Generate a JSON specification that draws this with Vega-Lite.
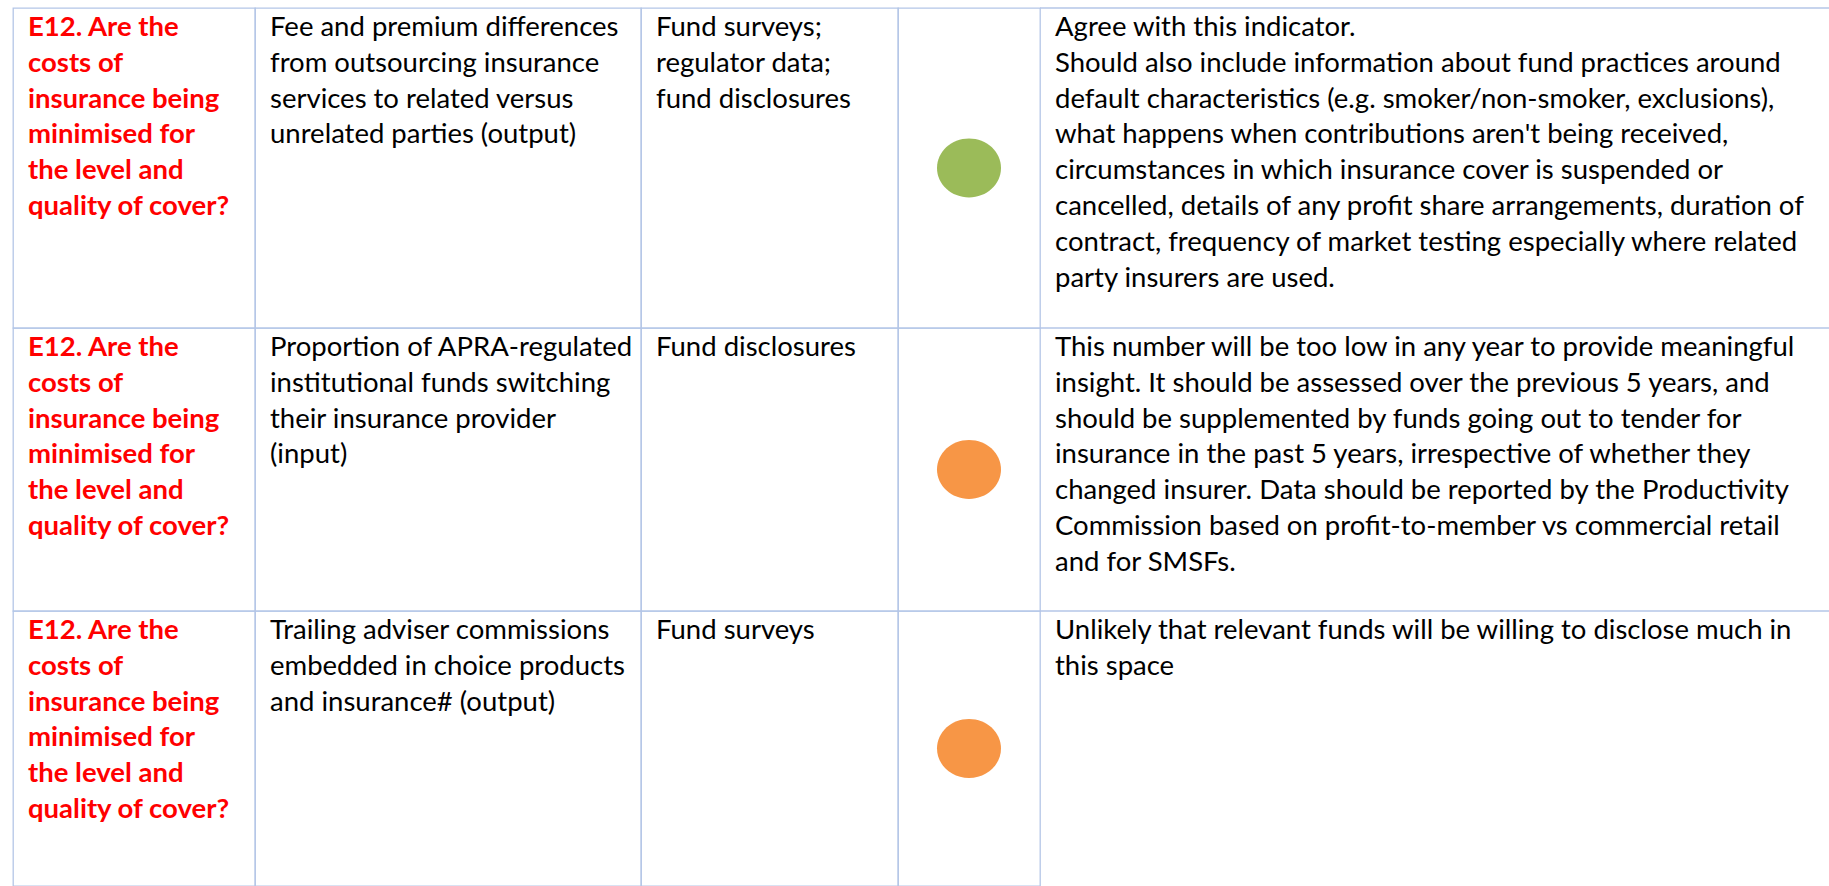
{
  "$schema": "https://vega.github.io/schema/vega-lite/v6.json",
  "padding": {"left": 12, "top": 7, "right": 0, "bottom": 0},
  "background": "#ffffff",
  "config": {
    "view": {"stroke": "#B4C6E7", "strokeWidth": 1.3},
    "text": {"font": "Lato", "fontSize": 27.5, "lineHeight": 35.8, "align": "left", "baseline": "alphabetic", "dx": 15, "dy": 28, "color": "#000000"}
  },
  "datasets": {
    "cells": [
      {"r": 1, "c": 1, "lines": ["E12. Are the", "costs of", "insurance being", "minimised for", "the level and", "quality of cover?"]},
      {"r": 1, "c": 2, "lines": ["Fee and premium differences", "from outsourcing insurance", "services to related versus", "unrelated parties (output)"]},
      {"r": 1, "c": 3, "lines": ["Fund surveys;", "regulator data;", "fund disclosures"]},
      {"r": 1, "c": 4, "rating": "green"},
      {"r": 1, "c": 5, "lines": ["Agree with this indicator.", "Should also include information about fund practices around", "default characteristics (e.g. smoker/non-smoker, exclusions),", "what happens when contributions aren't being received,", "circumstances in which insurance cover is suspended or", "cancelled, details of any profit share arrangements, duration of", "contract, frequency of market testing especially where related", "party insurers are used."]},
      {"r": 2, "c": 1, "lines": ["E12. Are the", "costs of", "insurance being", "minimised for", "the level and", "quality of cover?"]},
      {"r": 2, "c": 2, "lines": ["Proportion of APRA-regulated", "institutional funds switching", "their insurance provider", "(input)"]},
      {"r": 2, "c": 3, "lines": ["Fund disclosures"]},
      {"r": 2, "c": 4, "rating": "amber"},
      {"r": 2, "c": 5, "lines": ["This number will be too low in any year to provide meaningful", "insight. It should be assessed over the previous 5 years, and", "should be supplemented by funds going out to tender for", "insurance in the past 5 years, irrespective of whether they", "changed insurer. Data should be reported by the Productivity", "Commission based on profit-to-member vs commercial retail", "and for SMSFs."]},
      {"r": 3, "c": 1, "lines": ["E12. Are the", "costs of", "insurance being", "minimised for", "the level and", "quality of cover?"]},
      {"r": 3, "c": 2, "lines": ["Trailing adviser commissions", "embedded in choice products", "and insurance# (output)"]},
      {"r": 3, "c": 3, "lines": ["Fund surveys"]},
      {"r": 3, "c": 4, "rating": "amber"},
      {"r": 3, "c": 5, "lines": ["Unlikely that relevant funds will be willing to disclose much in", "this space"]}
    ]
  },
  "data": {"name": "cells"},
  "columns": 5,
  "spacing": 0,
  "bounds": "flush",
  "resolve": {"scale": {"x": "independent", "y": "independent"}},
  "concat": [
    {"width": 242, "height": 320, "transform": [{"filter": "datum.r == 1 && datum.c == 1"}], "mark": {"type": "text", "color": "#FF0000", "fontWeight": "bold"}, "encoding": {"x": {"field": "c", "type": "nominal", "axis": null, "scale": {"type": "band", "paddingInner": 0, "paddingOuter": 0}, "bandPosition": 0}, "y": {"field": "r", "type": "nominal", "axis": null, "scale": {"type": "band", "paddingInner": 0, "paddingOuter": 0}, "bandPosition": 0}, "text": {"field": "lines"}}},
    {"width": 386, "height": 320, "transform": [{"filter": "datum.r == 1 && datum.c == 2"}], "mark": {"type": "text"}, "encoding": {"x": {"field": "c", "type": "nominal", "axis": null, "scale": {"type": "band", "paddingInner": 0, "paddingOuter": 0}, "bandPosition": 0}, "y": {"field": "r", "type": "nominal", "axis": null, "scale": {"type": "band", "paddingInner": 0, "paddingOuter": 0}, "bandPosition": 0}, "text": {"field": "lines"}}},
    {"width": 257, "height": 320, "transform": [{"filter": "datum.r == 1 && datum.c == 3"}], "mark": {"type": "text"}, "encoding": {"x": {"field": "c", "type": "nominal", "axis": null, "scale": {"type": "band", "paddingInner": 0, "paddingOuter": 0}, "bandPosition": 0}, "y": {"field": "r", "type": "nominal", "axis": null, "scale": {"type": "band", "paddingInner": 0, "paddingOuter": 0}, "bandPosition": 0}, "text": {"field": "lines"}}},
    {"width": 142, "height": 320, "transform": [{"filter": "datum.r == 1 && datum.c == 4"}], "mark": {"type": "point", "filled": true, "opacity": 1, "size": 4096, "shape": "M-1,0A1,0.92,0,1,0,1,0A1,0.92,0,1,0,-1,0Z", "dy": -2}, "encoding": {"x": {"field": "c", "type": "nominal", "axis": null, "scale": {"type": "band", "paddingInner": 0, "paddingOuter": 0}}, "y": {"field": "r", "type": "nominal", "axis": null, "scale": {"type": "band", "paddingInner": 0, "paddingOuter": 0}}, "color": {"field": "rating", "type": "nominal", "scale": {"domain": ["green", "amber"], "range": ["#9BBB59", "#F79646"]}, "legend": null}}},
    {"width": 789, "height": 320, "view": {"stroke": null}, "transform": [{"filter": "datum.r == 1 && datum.c == 5"}], "layer": [
      {"mark": {"type": "rule", "color": "#B4C6E7", "strokeWidth": 1.3}, "encoding": {"y": {"field": "r", "type": "nominal", "axis": null, "scale": {"type": "band", "paddingInner": 0, "paddingOuter": 0}, "bandPosition": 0}}},
      {"mark": {"type": "text"}, "encoding": {"x": {"field": "c", "type": "nominal", "axis": null, "scale": {"type": "band", "paddingInner": 0, "paddingOuter": 0}, "bandPosition": 0}, "y": {"field": "r", "type": "nominal", "axis": null, "scale": {"type": "band", "paddingInner": 0, "paddingOuter": 0}, "bandPosition": 0}, "text": {"field": "lines"}}}
    ]},
    {"width": 242, "height": 283, "transform": [{"filter": "datum.r == 2 && datum.c == 1"}], "mark": {"type": "text", "color": "#FF0000", "fontWeight": "bold"}, "encoding": {"x": {"field": "c", "type": "nominal", "axis": null, "scale": {"type": "band", "paddingInner": 0, "paddingOuter": 0}, "bandPosition": 0}, "y": {"field": "r", "type": "nominal", "axis": null, "scale": {"type": "band", "paddingInner": 0, "paddingOuter": 0}, "bandPosition": 0}, "text": {"field": "lines"}}},
    {"width": 386, "height": 283, "transform": [{"filter": "datum.r == 2 && datum.c == 2"}], "mark": {"type": "text"}, "encoding": {"x": {"field": "c", "type": "nominal", "axis": null, "scale": {"type": "band", "paddingInner": 0, "paddingOuter": 0}, "bandPosition": 0}, "y": {"field": "r", "type": "nominal", "axis": null, "scale": {"type": "band", "paddingInner": 0, "paddingOuter": 0}, "bandPosition": 0}, "text": {"field": "lines"}}},
    {"width": 257, "height": 283, "transform": [{"filter": "datum.r == 2 && datum.c == 3"}], "mark": {"type": "text"}, "encoding": {"x": {"field": "c", "type": "nominal", "axis": null, "scale": {"type": "band", "paddingInner": 0, "paddingOuter": 0}, "bandPosition": 0}, "y": {"field": "r", "type": "nominal", "axis": null, "scale": {"type": "band", "paddingInner": 0, "paddingOuter": 0}, "bandPosition": 0}, "text": {"field": "lines"}}},
    {"width": 142, "height": 283, "transform": [{"filter": "datum.r == 2 && datum.c == 4"}], "mark": {"type": "point", "filled": true, "opacity": 1, "size": 4096, "shape": "M-1,0A1,0.92,0,1,0,1,0A1,0.92,0,1,0,-1,0Z", "dy": -2}, "encoding": {"x": {"field": "c", "type": "nominal", "axis": null, "scale": {"type": "band", "paddingInner": 0, "paddingOuter": 0}}, "y": {"field": "r", "type": "nominal", "axis": null, "scale": {"type": "band", "paddingInner": 0, "paddingOuter": 0}}, "color": {"field": "rating", "type": "nominal", "scale": {"domain": ["green", "amber"], "range": ["#9BBB59", "#F79646"]}, "legend": null}}},
    {"width": 789, "height": 283, "view": {"stroke": null}, "transform": [{"filter": "datum.r == 2 && datum.c == 5"}], "layer": [
      {"mark": {"type": "rule", "color": "#B4C6E7", "strokeWidth": 1.3}, "encoding": {"y": {"field": "r", "type": "nominal", "axis": null, "scale": {"type": "band", "paddingInner": 0, "paddingOuter": 0}, "bandPosition": 0}}},
      {"mark": {"type": "text"}, "encoding": {"x": {"field": "c", "type": "nominal", "axis": null, "scale": {"type": "band", "paddingInner": 0, "paddingOuter": 0}, "bandPosition": 0}, "y": {"field": "r", "type": "nominal", "axis": null, "scale": {"type": "band", "paddingInner": 0, "paddingOuter": 0}, "bandPosition": 0}, "text": {"field": "lines"}}}
    ]},
    {"width": 242, "height": 275, "transform": [{"filter": "datum.r == 3 && datum.c == 1"}], "mark": {"type": "text", "color": "#FF0000", "fontWeight": "bold"}, "encoding": {"x": {"field": "c", "type": "nominal", "axis": null, "scale": {"type": "band", "paddingInner": 0, "paddingOuter": 0}, "bandPosition": 0}, "y": {"field": "r", "type": "nominal", "axis": null, "scale": {"type": "band", "paddingInner": 0, "paddingOuter": 0}, "bandPosition": 0}, "text": {"field": "lines"}}},
    {"width": 386, "height": 275, "transform": [{"filter": "datum.r == 3 && datum.c == 2"}], "mark": {"type": "text"}, "encoding": {"x": {"field": "c", "type": "nominal", "axis": null, "scale": {"type": "band", "paddingInner": 0, "paddingOuter": 0}, "bandPosition": 0}, "y": {"field": "r", "type": "nominal", "axis": null, "scale": {"type": "band", "paddingInner": 0, "paddingOuter": 0}, "bandPosition": 0}, "text": {"field": "lines"}}},
    {"width": 257, "height": 275, "transform": [{"filter": "datum.r == 3 && datum.c == 3"}], "mark": {"type": "text"}, "encoding": {"x": {"field": "c", "type": "nominal", "axis": null, "scale": {"type": "band", "paddingInner": 0, "paddingOuter": 0}, "bandPosition": 0}, "y": {"field": "r", "type": "nominal", "axis": null, "scale": {"type": "band", "paddingInner": 0, "paddingOuter": 0}, "bandPosition": 0}, "text": {"field": "lines"}}},
    {"width": 142, "height": 275, "transform": [{"filter": "datum.r == 3 && datum.c == 4"}], "mark": {"type": "point", "filled": true, "opacity": 1, "size": 4096, "shape": "M-1,0A1,0.92,0,1,0,1,0A1,0.92,0,1,0,-1,0Z"}, "encoding": {"x": {"field": "c", "type": "nominal", "axis": null, "scale": {"type": "band", "paddingInner": 0, "paddingOuter": 0}}, "y": {"field": "r", "type": "nominal", "axis": null, "scale": {"type": "band", "paddingInner": 0, "paddingOuter": 0}}, "color": {"field": "rating", "type": "nominal", "scale": {"domain": ["green", "amber"], "range": ["#9BBB59", "#F79646"]}, "legend": null}}},
    {"width": 789, "height": 275, "view": {"stroke": null}, "transform": [{"filter": "datum.r == 3 && datum.c == 5"}], "layer": [
      {"mark": {"type": "rule", "color": "#B4C6E7", "strokeWidth": 1.3}, "encoding": {"y": {"field": "r", "type": "nominal", "axis": null, "scale": {"type": "band", "paddingInner": 0, "paddingOuter": 0}, "bandPosition": 0}}},
      {"mark": {"type": "text"}, "encoding": {"x": {"field": "c", "type": "nominal", "axis": null, "scale": {"type": "band", "paddingInner": 0, "paddingOuter": 0}, "bandPosition": 0}, "y": {"field": "r", "type": "nominal", "axis": null, "scale": {"type": "band", "paddingInner": 0, "paddingOuter": 0}, "bandPosition": 0}, "text": {"field": "lines"}}}
    ]}
  ]
}
